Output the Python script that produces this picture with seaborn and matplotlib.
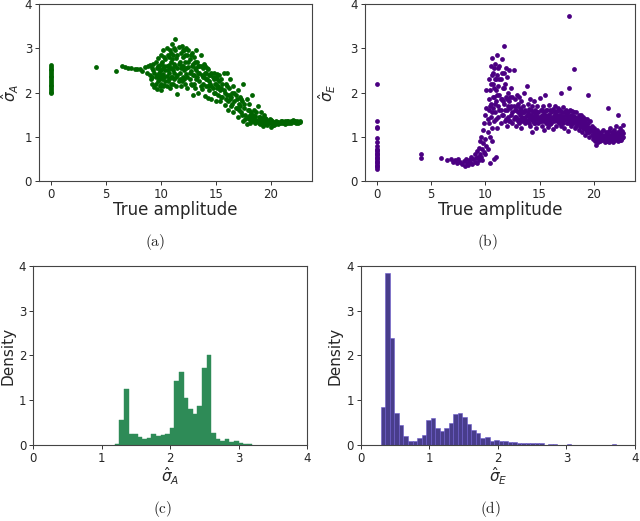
import numpy as np
import pandas as pd
import seaborn as sns
import matplotlib
import matplotlib.pyplot as plt

matplotlib.use('Agg')
sns.set_theme(style="ticks")
plt.rcParams['font.family'] = ['DejaVu Sans']

# (a) true amplitude vs sigma_A estimate
points_a = [
    (0, 1.98), (0, 2.02), (0, 2.06), (0, 2.10), (0, 2.14), (0, 2.18), (0, 2.22), (0, 2.26),
    (0, 2.30), (0, 2.34), (0, 2.38), (0, 2.42), (0, 2.46), (0, 2.50), (0, 2.54), (0, 2.58), (0, 2.62),
    (4.1, 2.57), (5.9, 2.49), (6.4, 2.60), (6.7, 2.57), (7.0, 2.56), (7.3, 2.55), (7.6, 2.54),
    (7.8, 2.52), (8.1, 2.53), (8.3, 2.48), (8.5, 2.58), (8.7, 2.45), (8.8, 2.60),
    (9.0, 2.62), (9.0, 2.40), (9.1, 2.30), (9.2, 2.55), (9.2, 2.20), (9.3, 2.65), (9.4, 2.45),
    (9.4, 2.12), (9.5, 2.35), (9.5, 2.70), (9.6, 2.55), (9.6, 2.08), (9.7, 2.25), (9.7, 2.78),
    (9.8, 2.45), (9.8, 2.60), (9.9, 2.15), (9.9, 2.35), (10.0, 2.50), (10.0, 2.85), (10.0, 2.05),
    (10.1, 2.68), (10.1, 2.30), (10.2, 2.42), (10.2, 2.95), (10.3, 2.60), (10.3, 2.18),
    (10.4, 2.75), (10.4, 2.50), (10.5, 2.38), (10.5, 3.00), (10.6, 2.85), (10.6, 2.25),
    (10.7, 2.62), (10.7, 2.45), (10.8, 2.95), (10.8, 2.10), (10.9, 2.70), (10.9, 2.35),
    (11.0, 3.10), (11.0, 2.55), (11.1, 2.85), (11.1, 2.20), (11.2, 2.45), (11.2, 2.65),
    (11.3, 3.20), (11.3, 2.95), (11.4, 2.35), (11.4, 2.78), (11.5, 1.97), (11.5, 2.55),
    (11.6, 3.02), (11.6, 2.25), (11.7, 2.70), (11.7, 2.45), (11.8, 2.90), (11.8, 2.15),
    (11.9, 2.60), (11.9, 3.05), (12.0, 2.35), (12.0, 2.80), (12.1, 2.50), (12.1, 2.95),
    (12.2, 2.20), (12.2, 2.68), (12.3, 3.00), (12.3, 2.42), (12.4, 2.85), (12.4, 2.10),
    (12.5, 2.58), (12.5, 2.95), (12.6, 2.30), (12.6, 2.75), (12.7, 2.48), (12.8, 2.90),
    (12.8, 2.18), (12.9, 2.65), (12.9, 1.95), (13.0, 2.40), (13.0, 2.80), (13.1, 2.55),
    (13.1, 2.10), (13.2, 2.95), (13.2, 2.30), (13.3, 2.70), (13.4, 2.45), (13.4, 2.00),
    (13.5, 2.60), (13.5, 2.25), (13.6, 2.85), (13.7, 2.40), (13.7, 2.08), (13.8, 2.55),
    (13.8, 2.20), (13.9, 2.35), (14.0, 2.60), (14.0, 1.92), (14.1, 2.45), (14.1, 2.15),
    (14.2, 2.30), (14.3, 2.52), (14.3, 1.88), (14.4, 2.25), (14.4, 2.05), (14.5, 2.40),
    (14.6, 2.15), (14.6, 1.85), (14.7, 2.35), (14.8, 2.00), (14.8, 2.45), (14.9, 2.20),
    (15.0, 1.80), (15.0, 2.35), (15.1, 2.10), (15.1, 2.42), (15.2, 1.95), (15.3, 2.25),
    (15.3, 2.40), (15.4, 1.80), (15.5, 2.10), (15.5, 2.30), (15.6, 1.90), (15.7, 2.45),
    (15.7, 2.05), (15.8, 1.72), (15.9, 2.20), (16.0, 1.95), (16.0, 2.45), (16.1, 1.60),
    (16.2, 2.10), (16.3, 1.85), (16.3, 2.30), (16.4, 1.70), (16.5, 2.00), (16.6, 1.55),
    (16.6, 2.15), (16.7, 1.80), (16.8, 1.95), (16.9, 1.65), (17.0, 2.05), (17.0, 1.45),
    (17.1, 1.75), (17.2, 1.90), (17.3, 1.55), (17.4, 1.80), (17.5, 1.35), (17.5, 2.20),
    (17.6, 1.65), (17.7, 1.50), (17.8, 1.85), (17.8, 1.28), (17.9, 1.60), (18.0, 1.40),
    (18.0, 1.75), (18.1, 1.30), (18.2, 1.55), (18.3, 1.45), (18.3, 1.95), (18.4, 1.35),
    (18.5, 1.60), (18.6, 1.30), (18.6, 1.48), (18.7, 1.38), (18.8, 1.70), (18.9, 1.32),
    (19.0, 1.45), (19.0, 1.28), (19.1, 1.55), (19.2, 1.35), (19.3, 1.42), (19.3, 1.25),
    (19.4, 1.50), (19.5, 1.32), (19.6, 1.40), (19.7, 1.27), (19.8, 1.35), (19.9, 1.30),
    (20.0, 1.22), (20.0, 1.38), (20.1, 1.30), (20.2, 1.26), (20.3, 1.33), (20.4, 1.28),
    (20.5, 1.30), (20.6, 1.34), (20.7, 1.29), (20.8, 1.32), (20.9, 1.30), (21.0, 1.35),
    (21.1, 1.31), (21.2, 1.33), (21.3, 1.29), (21.4, 1.34), (21.5, 1.32), (21.6, 1.36),
    (21.7, 1.31), (21.8, 1.34), (21.9, 1.32), (22.0, 1.37), (22.1, 1.33), (22.2, 1.35),
    (22.3, 1.31), (22.4, 1.36), (22.5, 1.34), (22.6, 1.33), (22.7, 1.35),
    (9.2, 2.35), (9.3, 2.50), (9.5, 2.20), (9.6, 2.40), (9.7, 2.60), (9.8, 2.30), (9.9, 2.50),
    (10.0, 2.20), (10.0, 2.65), (10.1, 2.40), (10.2, 2.55), (10.2, 2.15), (10.3, 2.35),
    (10.3, 2.80), (10.4, 2.25), (10.5, 2.60), (10.5, 2.15), (10.6, 2.50), (10.7, 2.30),
    (10.7, 2.80), (10.8, 2.55), (10.9, 2.20), (10.9, 2.90), (11.0, 2.35), (11.0, 2.75),
    (11.1, 2.50), (11.2, 2.30), (11.2, 3.00), (11.3, 2.60), (11.4, 2.15), (11.5, 2.85),
    (11.5, 2.40), (11.6, 2.65), (11.7, 2.30), (11.8, 2.55), (11.9, 2.25), (12.0, 2.60),
    (12.0, 2.95), (12.1, 2.30), (12.2, 2.85), (12.3, 2.55), (12.4, 2.35), (12.5, 2.70),
    (12.6, 2.45), (12.7, 2.20), (12.7, 2.85), (12.8, 2.60), (12.9, 2.40), (13.0, 2.20),
    (13.1, 2.70), (13.2, 2.50), (13.3, 2.35), (13.4, 2.60), (13.5, 2.45), (13.6, 2.15),
    (13.6, 2.60), (13.8, 2.35), (13.9, 2.65), (14.0, 2.45), (14.1, 2.30), (14.2, 2.55),
    (14.3, 2.15), (14.4, 2.40), (14.5, 2.20), (14.6, 2.45), (14.7, 2.10), (14.8, 2.30),
    (14.9, 2.00), (15.0, 2.20), (15.1, 2.30), (15.2, 2.15), (15.4, 2.05), (15.5, 1.90),
    (15.6, 2.20), (15.8, 2.00), (15.9, 1.85), (16.0, 2.15), (16.1, 1.80), (16.2, 1.95),
    (16.4, 1.90), (16.5, 1.75), (16.7, 2.00), (16.8, 1.65), (16.9, 1.85), (17.1, 1.60),
    (17.2, 1.70), (17.3, 1.85), (17.4, 1.50), (17.6, 1.75), (17.7, 1.40), (17.9, 1.45),
    (18.0, 1.60), (18.1, 1.50), (18.2, 1.35), (18.4, 1.50), (18.5, 1.40), (18.7, 1.55),
    (18.8, 1.35), (18.9, 1.45), (19.1, 1.38), (19.2, 1.30), (19.4, 1.35), (19.5, 1.42),
    (19.6, 1.28), (19.8, 1.30), (19.9, 1.40), (20.1, 1.35), (20.3, 1.27), (20.5, 1.35),
    (20.7, 1.33), (20.9, 1.36), (21.1, 1.34), (21.3, 1.35), (21.5, 1.36), (21.7, 1.34),
    (21.9, 1.35), (22.1, 1.36), (22.3, 1.34), (22.5, 1.31), (22.7, 1.33),
]

# (b) true amplitude vs sigma_E estimate
points_b = [
    (0, 0.28), (0, 0.31), (0, 0.34), (0, 0.37), (0, 0.40), (0, 0.43), (0, 0.46), (0, 0.49),
    (0, 0.52), (0, 0.55), (0, 0.58), (0, 0.61), (0, 0.64), (0, 0.67), (0, 0.70), (0, 0.73),
    (0, 0.80), (0, 0.88), (0, 0.98), (0, 1.20), (0, 1.22), (0, 1.35), (0, 2.20),
    (4.1, 0.62), (4.1, 0.53), (5.9, 0.53), (6.5, 0.47), (6.8, 0.50), (7.0, 0.42), (7.2, 0.47),
    (7.4, 0.40), (7.5, 0.50), (7.7, 0.43), (7.8, 0.38), (8.0, 0.45), (8.1, 0.35), (8.2, 0.50),
    (8.3, 0.40), (8.4, 0.37), (8.5, 0.48), (8.6, 0.42), (8.7, 0.55), (8.8, 0.38), (8.9, 0.50),
    (9.0, 0.44), (9.0, 0.60), (9.1, 0.52), (9.2, 0.40), (9.2, 0.68), (9.3, 0.55), (9.4, 0.47),
    (9.4, 0.75), (9.5, 0.62), (9.5, 0.90), (9.6, 0.55), (9.6, 1.00), (9.7, 0.72), (9.7, 0.48),
    (9.8, 0.85), (9.8, 1.15), (9.9, 0.65), (9.9, 1.30), (10.0, 0.95), (10.0, 0.60), (10.0, 1.50),
    (10.1, 0.80), (10.1, 1.65), (10.1, 2.05), (10.2, 1.10), (10.2, 1.40), (10.2, 0.72),
    (10.3, 1.85), (10.3, 2.30), (10.3, 1.60), (10.4, 0.40), (10.4, 1.00), (10.4, 2.05),
    (10.5, 1.45), (10.5, 2.60), (10.5, 1.75), (10.6, 2.78), (10.6, 1.20), (10.6, 0.90),
    (10.7, 2.20), (10.7, 1.65), (10.7, 2.45), (10.8, 0.50), (10.8, 1.90), (10.8, 1.35),
    (10.9, 2.65), (10.9, 2.30), (10.9, 1.55), (11.0, 0.55), (11.0, 2.05), (11.0, 1.80),
    (11.1, 2.85), (11.1, 1.20), (11.1, 2.40), (11.2, 1.70), (11.2, 2.15), (11.2, 1.45),
    (11.3, 2.60), (11.3, 1.95), (11.4, 2.30), (11.4, 1.60), (11.4, 1.30), (11.5, 2.75),
    (11.5, 1.85), (11.6, 2.10), (11.6, 1.50), (11.7, 3.05), (11.7, 2.45), (11.7, 1.75),
    (11.8, 1.35), (11.8, 2.20), (11.9, 1.90), (11.9, 2.55), (12.0, 1.60), (12.0, 2.35),
    (12.0, 1.25), (12.1, 2.00), (12.1, 1.45), (12.2, 1.80), (12.2, 2.50), (12.3, 1.35),
    (12.3, 1.65), (12.4, 2.10), (12.4, 1.50), (12.5, 1.90), (12.5, 1.30), (12.6, 2.50),
    (12.6, 1.70), (12.7, 1.45), (12.7, 1.85), (12.8, 1.25), (12.8, 1.60), (12.9, 1.95),
    (12.9, 1.40), (13.0, 1.55), (13.0, 1.75), (13.1, 1.30), (13.1, 1.90), (13.2, 1.50),
    (13.2, 1.65), (13.3, 1.20), (13.3, 1.80), (13.4, 1.45), (13.4, 1.35), (13.5, 1.70),
    (13.5, 1.55), (13.6, 1.40), (13.6, 2.00), (13.7, 1.60), (13.7, 1.30), (13.8, 2.15),
    (13.8, 1.50), (13.9, 1.75), (13.9, 1.38), (14.0, 1.45), (14.0, 1.62), (14.1, 1.25),
    (14.1, 1.85), (14.2, 1.50), (14.2, 1.40), (14.3, 1.70), (14.3, 1.10), (14.4, 1.55),
    (14.4, 1.35), (14.5, 1.45), (14.5, 1.80), (14.6, 1.30), (14.6, 1.60), (14.7, 1.50),
    (14.7, 1.20), (14.8, 1.40), (14.8, 1.70), (14.9, 1.55), (14.9, 1.32), (15.0, 1.45),
    (15.0, 1.88), (15.1, 1.35), (15.1, 1.60), (15.2, 1.50), (15.2, 1.25), (15.3, 1.42),
    (15.3, 1.70), (15.4, 1.55), (15.4, 1.15), (15.5, 1.38), (15.5, 1.95), (15.6, 1.48),
    (15.6, 1.30), (15.7, 1.60), (15.7, 1.40), (15.8, 1.50), (15.8, 1.22), (15.9, 1.35),
    (15.9, 1.72), (16.0, 1.45), (16.0, 1.28), (16.1, 1.55), (16.1, 1.40), (16.2, 1.62),
    (16.2, 1.18), (16.3, 1.48), (16.3, 1.35), (16.4, 1.52), (16.4, 1.70), (16.5, 1.42),
    (16.5, 1.25), (16.6, 1.58), (16.6, 1.35), (16.7, 1.46), (16.7, 1.65), (16.8, 1.30),
    (16.8, 1.50), (16.9, 1.40), (16.9, 1.60), (17.0, 2.00), (17.0, 1.45), (17.0, 1.25),
    (17.1, 1.55), (17.1, 1.35), (17.2, 1.48), (17.2, 1.68), (17.3, 1.38), (17.3, 1.20),
    (17.4, 1.50), (17.4, 1.60), (17.5, 1.42), (17.5, 1.30), (17.6, 1.55), (17.6, 1.12),
    (17.7, 3.72), (17.7, 2.10), (17.7, 1.45), (17.8, 1.35), (17.8, 1.60), (17.9, 1.50),
    (17.9, 1.25), (18.0, 1.40), (18.0, 1.58), (18.1, 1.30), (18.1, 1.48), (18.2, 2.52),
    (18.2, 1.38), (18.2, 1.55), (18.3, 1.20), (18.3, 1.45), (18.4, 1.35), (18.4, 1.55),
    (18.5, 1.28), (18.5, 1.42), (18.6, 1.15), (18.6, 1.50), (18.7, 1.32), (18.7, 1.40),
    (18.8, 1.25), (18.8, 1.50), (18.9, 1.38), (18.9, 1.10), (19.0, 1.30), (19.0, 1.45),
    (19.1, 1.20), (19.1, 1.35), (19.2, 1.40), (19.2, 1.05), (19.3, 1.30), (19.3, 1.15),
    (19.4, 1.25), (19.4, 1.40), (19.5, 1.95), (19.5, 1.10), (19.5, 1.30), (19.6, 1.20),
    (19.6, 1.00), (19.7, 1.35), (19.7, 1.12), (19.8, 1.05), (19.8, 1.25), (19.9, 0.95),
    (19.9, 1.15), (20.0, 1.00), (20.0, 1.20), (20.1, 0.90), (20.1, 1.10), (20.2, 0.82),
    (20.2, 1.05), (20.3, 0.95), (20.3, 1.15), (20.4, 1.00), (20.4, 0.88), (20.5, 1.08),
    (20.5, 0.95), (20.6, 1.02), (20.6, 0.90), (20.7, 1.10), (20.7, 0.98), (20.8, 0.92),
    (20.8, 1.05), (20.9, 1.00), (20.9, 1.15), (21.0, 0.88), (21.0, 1.05), (21.1, 0.95),
    (21.1, 1.10), (21.2, 1.00), (21.2, 0.90), (21.3, 1.65), (21.3, 1.05), (21.3, 0.95),
    (21.4, 1.12), (21.4, 0.88), (21.5, 1.00), (21.5, 1.20), (21.6, 0.92), (21.6, 1.05),
    (21.7, 1.10), (21.7, 0.95), (21.8, 1.00), (21.8, 0.88), (21.9, 1.15), (21.9, 1.02),
    (22.0, 0.92), (22.0, 1.08), (22.1, 1.25), (22.1, 0.97), (22.2, 1.50), (22.2, 1.03),
    (22.2, 0.90), (22.3, 1.10), (22.3, 0.95), (22.4, 1.00), (22.4, 1.20), (22.5, 0.93),
    (22.5, 1.05), (22.6, 1.08), (22.6, 0.98), (22.7, 1.27), (22.7, 1.00),
    (10.3, 1.30), (10.4, 1.70), (10.5, 2.20), (10.6, 1.55), (10.6, 2.40), (10.7, 1.90),
    (10.8, 2.10), (10.8, 2.55), (10.9, 1.75), (11.0, 2.30), (11.0, 1.40), (11.1, 1.95),
    (11.2, 2.55), (11.3, 1.60), (11.3, 2.30), (11.4, 1.85), (11.5, 2.45), (11.5, 1.50),
    (11.6, 1.80), (11.7, 2.10), (11.8, 1.60), (11.9, 1.40), (12.0, 1.85), (12.1, 1.70),
    (12.2, 1.35), (12.3, 1.90), (12.4, 1.70), (12.5, 1.55), (12.6, 1.40), (12.7, 1.60),
    (12.8, 1.45), (12.9, 1.70), (13.0, 1.35), (13.1, 1.55), (13.2, 1.40), (13.3, 1.60),
    (13.4, 1.55), (13.5, 1.40), (13.6, 1.55), (13.7, 1.45), (13.8, 1.35), (13.9, 1.55),
    (14.0, 1.30), (14.1, 1.50), (14.2, 1.60), (14.3, 1.40), (14.4, 1.45), (14.5, 1.30),
    (14.6, 1.50), (14.7, 1.40), (14.8, 1.55), (14.9, 1.45), (15.0, 1.35), (15.1, 1.45),
    (15.2, 1.60), (15.3, 1.35), (15.4, 1.45), (15.5, 1.50), (15.6, 1.60), (15.7, 1.30),
    (15.8, 1.40), (15.9, 1.50), (16.0, 1.60), (16.1, 1.30), (16.2, 1.45), (16.3, 1.58),
    (16.4, 1.40), (16.5, 1.50), (16.6, 1.45), (16.7, 1.35), (16.8, 1.60), (16.9, 1.50),
    (17.0, 1.38), (17.1, 1.45), (17.2, 1.30), (17.3, 1.55), (17.4, 1.40), (17.5, 1.50),
    (17.6, 1.40), (17.7, 1.30), (17.8, 1.48), (17.9, 1.40), (18.0, 1.30), (18.1, 1.40),
    (18.2, 1.45), (18.3, 1.35), (18.4, 1.25), (18.5, 1.35), (18.6, 1.40), (18.7, 1.22),
    (18.8, 1.35), (18.9, 1.28), (19.0, 1.20), (19.1, 1.28), (19.2, 1.20), (19.3, 1.22),
    (19.4, 1.10), (19.6, 1.10), (19.7, 1.20), (19.8, 1.15), (19.9, 1.05), (20.0, 1.10),
    (20.1, 1.00), (20.2, 0.95), (20.3, 1.05), (20.4, 1.10), (20.5, 1.00), (20.6, 0.95),
    (20.7, 1.05), (20.8, 1.00), (20.9, 0.95), (21.0, 1.00), (21.1, 1.02), (21.2, 1.08),
    (21.3, 0.90), (21.4, 1.00), (21.5, 0.95), (21.6, 1.00), (21.7, 1.02), (21.8, 1.08),
    (21.9, 0.95), (22.0, 1.00), (22.1, 1.05), (22.2, 1.10), (22.3, 1.02), (22.4, 0.92),
    (22.5, 1.00), (22.6, 1.12), (22.7, 1.08),
]

# (c) density of sigma_A, 30 bins from 1.19 to 3.20
bin_range_c = (1.19, 3.20)
density_c = [0.03, 0.55, 1.24, 0.25, 0.25, 0.17, 0.13, 0.16, 0.25, 0.20,
             0.22, 0.25, 0.38, 1.43, 1.62, 1.05, 0.80, 0.70, 0.87, 1.73,
             2.01, 0.26, 0.14, 0.10, 0.14, 0.07, 0.10, 0.05, 0.03, 0.02]

# (d) density of sigma_E, 52 bins from 0.29 to 3.73
bin_range_d = (0.29, 3.73)
density_d = [0.84, 3.84, 2.38, 0.72, 0.45, 0.20, 0.10, 0.09, 0.15, 0.22,
             0.55, 0.60, 0.37, 0.32, 0.38, 0.49, 0.70, 0.72, 0.62, 0.46,
             0.34, 0.26, 0.16, 0.17, 0.10, 0.11, 0.08, 0.08, 0.06, 0.07,
             0.05, 0.04, 0.04, 0.04, 0.04, 0.04, 0.01, 0.02, 0.02, 0.00,
             0.00, 0.02, 0.00, 0.00, 0.00, 0.00, 0.00, 0.00, 0.00, 0.00,
             0.00, 0.02]

df_a = pd.DataFrame(points_a, columns=["amp", "sig"])
df_b = pd.DataFrame(points_b, columns=["amp", "sig"])


def centers(rng, n):
    edges = np.linspace(rng[0], rng[1], n + 1)
    return (edges[:-1] + edges[1:]) / 2


fig = plt.figure(figsize=(6.4, 5.21), dpi=100)
ax_a = fig.add_axes([0.061, 0.6526, 0.427, 0.3397])
ax_b = fig.add_axes([0.570, 0.6526, 0.422, 0.3397])
ax_c = fig.add_axes([0.052, 0.1459, 0.428, 0.3436])
ax_d = fig.add_axes([0.564, 0.1459, 0.428, 0.3436])

sns.scatterplot(data=df_a, x="amp", y="sig", color="darkgreen", s=12,
                linewidth=0, ax=ax_a)
sns.scatterplot(data=df_b, x="amp", y="sig", color="indigo", s=12,
                linewidth=0, ax=ax_b)

for ax, lab, ylx in [(ax_a, r"$\hat{\sigma}_A$", -0.066), (ax_b, r"$\hat{\sigma}_E$", -0.10)]:
    ax.set_ylim(0, 4)
    ax.set_xlim(-1.13, 23.8)
    ax.set_yticks([0, 1, 2, 3, 4])
    ax.set_xticks([0, 5, 10, 15, 20])
    ax.set_xlabel("True amplitude", fontsize=12)
    ax.set_ylabel(lab, fontsize=11)
    ax.yaxis.set_label_coords(ylx, 0.5)
    ax.xaxis.set_label_coords(0.5, -0.115)

sns.histplot(x=centers(bin_range_c, len(density_c)), weights=density_c,
             bins=len(density_c), binrange=bin_range_c, stat="count",
             color="seagreen", alpha=1, edgecolor="seagreen", linewidth=0.3, ax=ax_c)
sns.histplot(x=centers(bin_range_d, len(density_d)), weights=density_d,
             bins=len(density_d), binrange=bin_range_d, stat="count",
             color="darkslateblue", alpha=1, edgecolor="#6a5acd", linewidth=0.4, ax=ax_d)

for ax, lab, ylx in [(ax_c, r"$\hat{\sigma}_A$", -0.066), (ax_d, r"$\hat{\sigma}_E$", -0.066)]:
    ax.set_xlim(0, 4)
    ax.set_ylim(0, 4)
    ax.set_xticks([0, 1, 2, 3, 4])
    ax.set_yticks([0, 1, 2, 3, 4])
    ax.set_xlabel(lab, fontsize=11)
    ax.set_ylabel("Density", fontsize=11)
    ax.yaxis.set_label_coords(ylx, 0.5)
    ax.xaxis.set_label_coords(0.5, -0.115)

for ax in [ax_a, ax_b, ax_c, ax_d]:
    ax.tick_params(labelsize=8.5, length=3, width=0.7, pad=2, color="#333333")
    for sp in ax.spines.values():
        sp.set_visible(True)
        sp.set_color("#444444")
        sp.set_linewidth(0.8)

cap_font = dict(fontsize=11, ha="center", va="center", math_fontfamily="cm")
fig.text(155 / 640, 1 - 242 / 521, r"$\mathrm{(a)}$", **cap_font)
fig.text(487 / 640, 1 - 242 / 521, r"$\mathrm{(b)}$", **cap_font)
fig.text(163 / 640, 1 - 509 / 521, r"$\mathrm{(c)}$", **cap_font)
fig.text(490 / 640, 1 - 509 / 521, r"$\mathrm{(d)}$", **cap_font)

fig.savefig("out.png", dpi=100)
